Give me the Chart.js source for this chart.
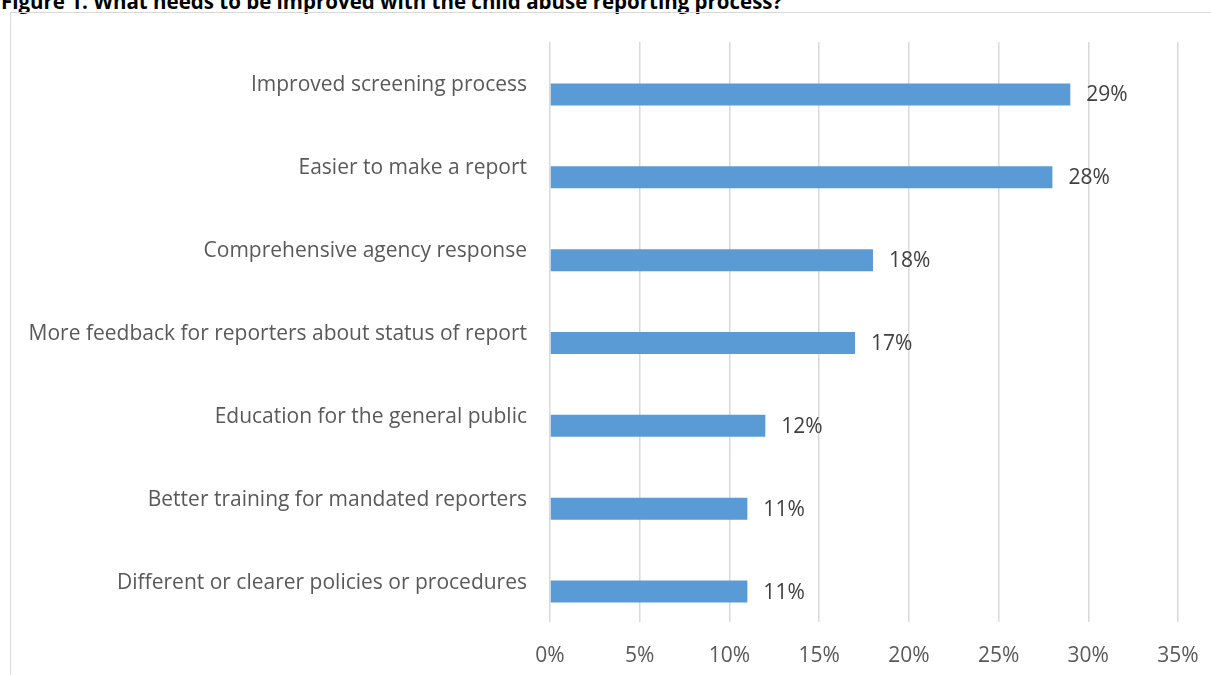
<!DOCTYPE html>
<html lang="en">
<head>
    <meta charset="UTF-8">
    <title>Figure 1 | Child Abuse Reporting Process</title>
    <script src="https://cdn.jsdelivr.net/npm/chart.js@4.4.1/dist/chart.umd.min.js"></script>
    <style>
        html, body { margin: 0; padding: 0; background: #fff; overflow: hidden; }
        body { width: 1211px; height: 675px; position: relative; font-family: "Open Sans", "Liberation Sans", sans-serif; }
        .fig-title {
            position: absolute; left: 1px; top: -12px;
            font-size: 20.5px; font-weight: bold; color: #000; white-space: nowrap;
            line-height: 26px;
        }
        .chart-box {
            position: absolute; left: 10px; top: 12px; width: 1400px; height: 900px;
            border: 1px solid #d9d9d9; box-sizing: border-box;
        }
        .chart-wrap { position: absolute; left: 0; top: 0; width: 1211px; height: 675px; }
    </style>
</head>
<body>
    <div class="fig-title">Figure 1. What needs to be improved with the child abuse reporting process?</div>
    <div class="chart-box"></div>
    <div class="chart-wrap"><canvas id="improvements"></canvas></div>

    <script>
        // Survey answers, top to bottom
        const categories = [
            'Improved screening process',
            'Easier to make a report',
            'Comprehensive agency response',
            'More feedback for reporters about status of report',
            'Education for the general public',
            'Better training for mandated reporters',
            'Different or clearer policies or procedures'
        ];
        const percentages = [29, 28, 18, 17, 12, 11, 11];
        const tickValues = [0, 5, 10, 15, 20, 25, 30, 35];

        const textColor = '#595959';
        const labelFont = { family: '"Open Sans", "Liberation Sans", sans-serif', size: 21 };

        // value labels just past the end of each bar
        const valueLabels = {
            id: 'valueLabels',
            afterDatasetsDraw(chart) {
                const ctx = chart.ctx;
                const meta = chart.getDatasetMeta(1);
                ctx.save();
                ctx.font = `${labelFont.size}px ${labelFont.family}`;
                ctx.fillStyle = '#404040';
                ctx.textAlign = 'left';
                ctx.textBaseline = 'middle';
                meta.data.forEach((bar, i) => {
                    ctx.fillText(percentages[i] + '%', bar.x + 16, bar.y + 1);
                });
                ctx.restore();
            }
        };

        new Chart(document.getElementById('improvements'), {
            type: 'bar',
            data: {
                labels: categories,
                datasets: [
                    // empty slot so the bar sits in the lower half of each row
                    { label: 'spacer', data: categories.map(() => null), backgroundColor: 'transparent' },
                    { label: 'Share', data: percentages, backgroundColor: '#5b9bd5', borderWidth: 0 }
                ]
            },
            options: {
                indexAxis: 'y',
                responsive: true,
                maintainAspectRatio: false,
                animation: false,
                categoryPercentage: 0.531,
                barPercentage: 1,
                layout: { padding: { top: 42, right: 33, left: 0, bottom: 0 } },
                plugins: {
                    legend: { display: false },
                    tooltip: { enabled: false }
                },
                scales: {
                    x: {
                        min: 0,
                        max: 35,
                        afterBuildTicks: (scale) => { scale.ticks = tickValues.map(v => ({ value: v })); },
                        afterFit: (scale) => {
                            scale.height = 53;
                            scale.paddingLeft = 0;
                            scale.paddingRight = 0;
                        },
                        grid: { color: '#d9d9d9', lineWidth: 1.5, drawTicks: false },
                        border: { display: false },
                        ticks: {
                            padding: 21,
                            color: textColor,
                            font: labelFont,
                            callback: (v) => v + '%'
                        }
                    },
                    y: {
                        afterFit: (scale) => { scale.width = 550; },
                        grid: { display: false, drawTicks: false },
                        border: { display: false },
                        ticks: {
                            padding: 23,
                            labelOffset: 2,
                            color: textColor,
                            font: labelFont
                        }
                    }
                }
            },
            plugins: [valueLabels]
        });
    </script>
</body>
</html>
